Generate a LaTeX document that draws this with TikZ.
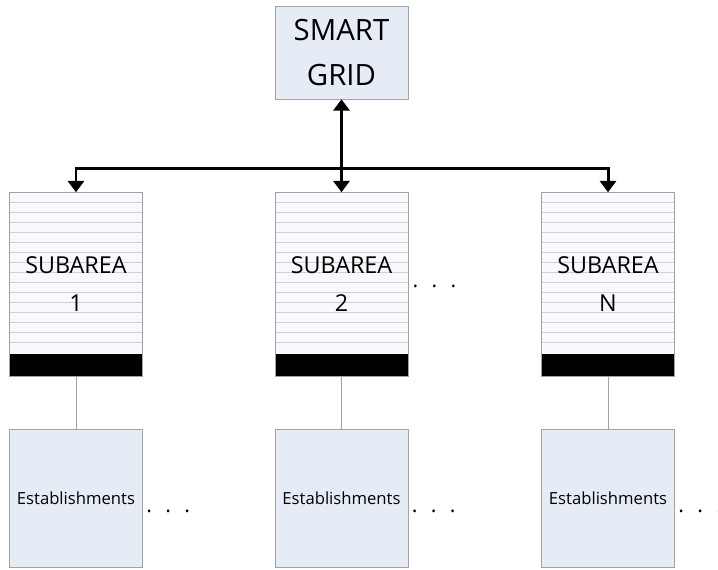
\documentclass[tikz,border=0pt]{standalone}
\usepackage{fontspec}
\setmainfont{Open Sans}
\usepackage{tikz}
\usetikzlibrary{arrows.meta,positioning}
\definecolor{boxblue}{HTML}{E6ECF6}
\definecolor{boxline}{HTML}{A3A3A3}
\definecolor{padfill}{HTML}{F8F9FC}
\definecolor{padrule}{HTML}{CDD0D5}
\newcommand{\moredots}{.\hspace{10pt}.\hspace{10pt}.}

\begin{document}
\begin{tikzpicture}[x=0.75pt, y=-0.75pt,
      top/.style={draw=boxline, fill=boxblue, inner sep=0pt,
                  minimum width=99.75pt, minimum height=69.75pt,
                  font=\fontsize{22}{33.75}\selectfont, align=center},
      pad/.style={draw=boxline, fill=padfill, inner sep=0pt,
                  minimum width=99.75pt, minimum height=138pt,
                  font=\fontsize{17.5}{28.5}\selectfont, align=center,
                  path picture={
                    \foreach \k in {1,...,15}
                      \draw[padrule, line width=0.9pt]
                        ([yshift=-\k*7.5pt]path picture bounding box.north west) --
                        ([yshift=-\k*7.5pt]path picture bounding box.north east);
                    \fill[black] (path picture bounding box.south west) rectangle
                      ([yshift=17.25pt]path picture bounding box.south east);
                  }},
      est/.style={draw=boxline, fill=boxblue, inner sep=0pt,
                  minimum width=99.75pt, minimum height=103.5pt,
                  font=\fontsize{12.5}{15}\selectfont},
      arr/.style={{Triangle[width=12pt,length=8.5pt]}-{Triangle[width=12pt,length=8.5pt]},
                  line width=2.2pt},
      wire/.style={draw=boxline, line width=0.7pt},
      more/.style={inner sep=0pt, font=\fontsize{16}{18}\selectfont}
  ]
    \useasboundingbox (0,0) rectangle (718,570);

    \node[top] (grid) at (341.5,52.5) {SMART\\GRID};
    \node[pad, below=69.75pt of grid] (sub2) {SUBAREA\\2};
    \node[pad, left=99pt of sub2]     (sub1) {SUBAREA\\1};
    \node[pad, right=99.75pt of sub2] (subn) {SUBAREA\\N};
    \node[est, below=39pt of sub1] (est1) {Establishments};
    \node[est, below=39pt of sub2] (est2) {Establishments};
    \node[est, below=39pt of subn] (est3) {Establishments};

    % bus from the grid to every subarea
    \coordinate (bus) at ([yshift=18pt]sub2.north);
    \draw[arr] (grid.south) -- (sub2.north);
    \draw[arr] (sub1.north) |- (bus) -| (subn.north);

    \draw[wire] (sub1.south) -- (est1.north);
    \draw[wire] (sub2.south) -- (est2.north);
    \draw[wire] (subn.south) -- (est3.north);

    \node[more, anchor=base west] (dsub) at ([xshift=3pt,yshift=-2pt]sub2.east) {\moredots};
    \node[more, anchor=base west] (d1) at ([xshift=2.5pt,yshift=-10.5pt]est1.east) {\moredots};
    \node[more, anchor=base west] (d2) at ([xshift=2.5pt,yshift=-10.5pt]est2.east) {\moredots};
    \node[more, anchor=base west] (d3) at ([xshift=2.5pt,yshift=-10.5pt]est3.east) {\moredots};
  \end{tikzpicture}
\end{document}
